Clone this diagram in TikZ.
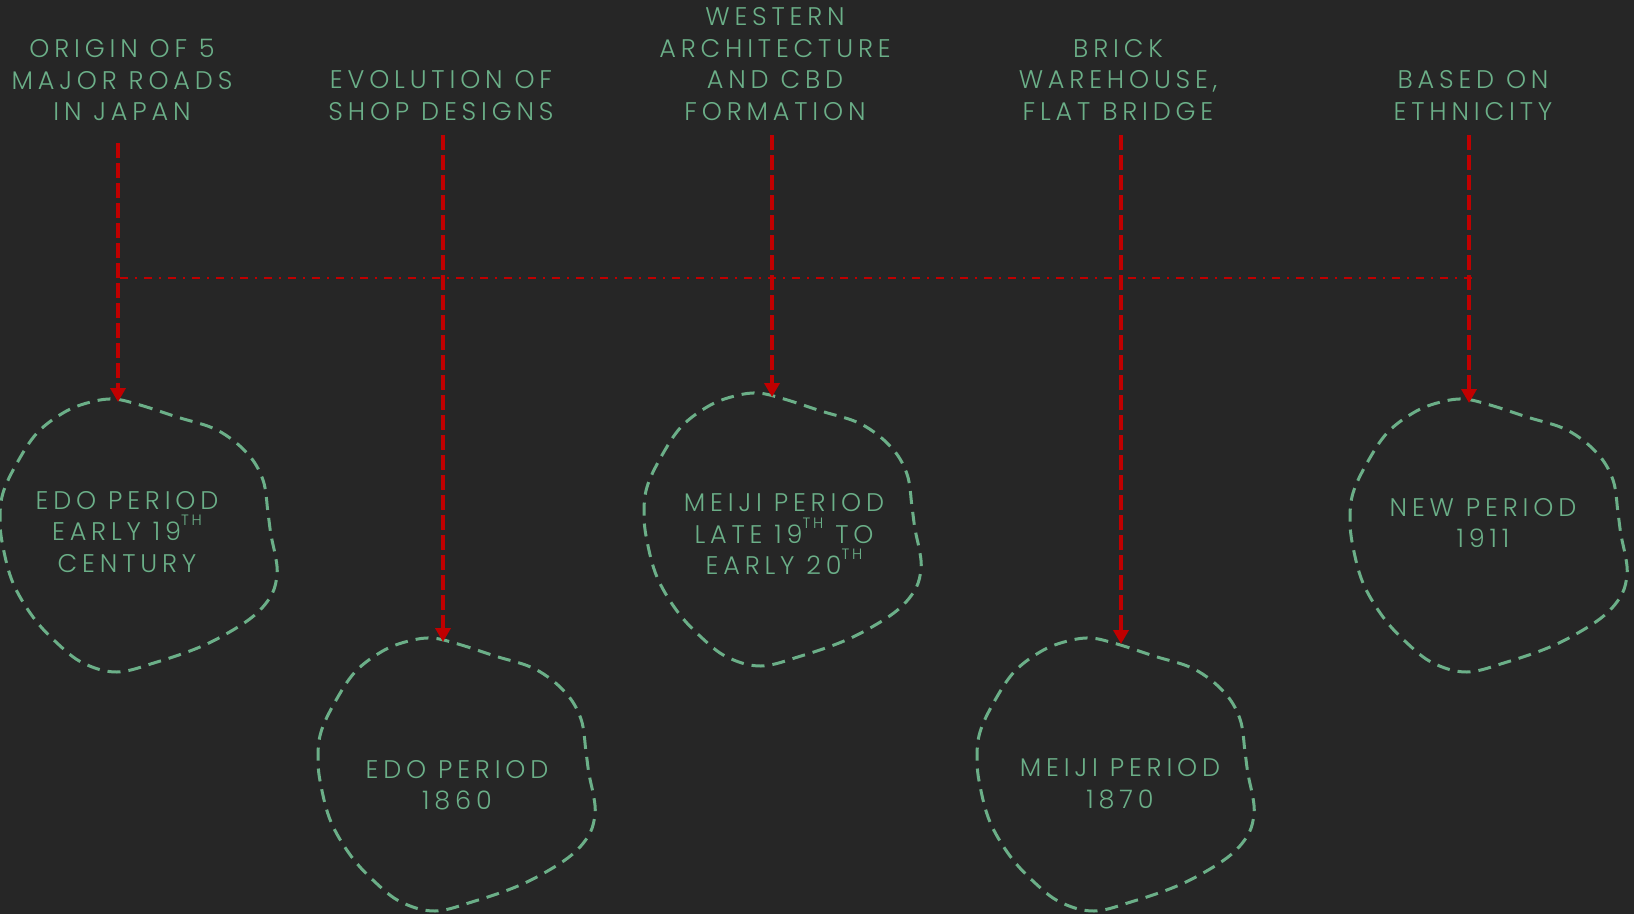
\documentclass[tikz,border=0pt]{standalone}
\usepackage{fontspec}
\setmainfont{Poppins}[UprightFont=* Light, LetterSpace=19]
\usetikzlibrary{arrows.meta,calc}
\definecolor{bg}{HTML}{262626}
\definecolor{sage}{HTML}{6BAF88}
\definecolor{arrred}{HTML}{C00000}
\newcommand{\thsup}{\raisebox{15pt}{\fontsize{15}{15}\selectfont TH}}
\tikzset{
  txt/.style={text=sage, align=center, inner sep=0pt, font=\fontsize{25.5}{31.5}\selectfont},
  blobline/.style={draw=sage, line width=3pt, dash pattern=on 13pt off 8pt},
  redarrow/.style={draw=arrred, line width=4.5pt, dash pattern=on 15pt off 5pt, -{Triangle[width=15pt,length=14pt]}},
  axisline/.style={draw=arrred, line width=2.2pt, dash pattern=on 8pt off 7pt on 2pt off 7pt},
  blob/.pic={
    \draw[blobline] plot[smooth cycle, tension=0.6] coordinates {
      (113,0) (140,6) (177,18) (217,31) (247,54) (263,81) (268,114) (271,136)
      (276,160) (277,176) (272,195) (257,214) (233,231) (200,248) (157,263)
      (117,273) (83,264) (57,244) (33,218) (13,184) (3,148) (0,121) (3,94)
      (17,64) (37,34) (63,14) (87,4)};
  }
}
\begin{document}
\begin{tikzpicture}[x=1pt,y=-1pt]
\useasboundingbox[fill=bg] (0,0) rectangle (1634,914);

% blobs
\pic at (0,399) {blob};
\pic at (318,638) {blob};
\pic at (644,393) {blob};
\pic at (977,638) {blob};
\pic at (1350,399) {blob};

% headers
\node[txt] (h1) at (122,80) {ORIGIN OF 5\\MAJOR ROADS\\IN JAPAN};
\node[txt] (h2) at (441,95.5) {EVOLUTION OF\\SHOP DESIGNS};
\node[txt] (h3) at (775,64) {WESTERN\\ARCHITECTURE\\AND CBD\\FORMATION};
\node[txt] (h4) at (1118,80) {BRICK\\WAREHOUSE,\\FLAT BRIDGE};
\node[txt] (h5) at (1473,95.5) {BASED ON\\ETHNICITY};

% blob texts
\node[txt] (p1) at (127,532) {EDO PERIOD\\EARLY 19\thsup\\CENTURY};
\node[txt] (p2) at (457,785) {EDO PERIOD\\1860};
\node[txt] (p3) at (784,534) {MEIJI PERIOD\\LATE 19\thsup{} TO\\EARLY 20\thsup};
\node[txt] (p4) at (1120,783.5) {MEIJI PERIOD\\1870};
\node[txt] (p5) at (1483,523) {NEW PERIOD\\1911};

% arrow tips on blob outlines
\coordinate (t1) at (118,402);
\coordinate (t2) at (443,642);
\coordinate (t3) at (772,397);
\coordinate (t4) at (1121,644);
\coordinate (t5) at (1469,403);

% horizontal dash-dot line
\coordinate (hl) at (120,278);
\coordinate (hr) at (1474,278);
\draw[axisline] (hl) -- (hr);

% arrows
\draw[redarrow] (t1 |- 0,143) -- (t1);
\draw[redarrow] (t2 |- 0,135) -- (t2);
\draw[redarrow] (t3 |- 0,135) -- (t3);
\draw[redarrow] (t4 |- 0,135) -- (t4);
\draw[redarrow] (t5 |- 0,135) -- (t5);
\end{tikzpicture}
\end{document}
